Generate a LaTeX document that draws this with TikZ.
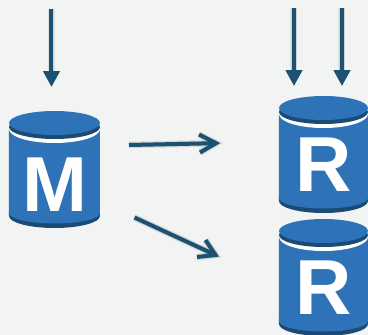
\documentclass[tikz,border=0pt]{standalone}
\usepackage{fontspec}
\setmainfont{Liberation Sans}
\usetikzlibrary{arrows.meta}
\definecolor{bgc}{HTML}{F2F4F4}
\definecolor{dbblue}{HTML}{2E73B8}
\definecolor{dbdark}{HTML}{1A4A75}
\definecolor{arrowc}{HTML}{1B5272}
\tikzset{
  flow/.style={draw=arrowc,line width=4pt,-{Triangle[length=16pt,width=16pt]}},
  flowsoft/.style={draw=black,opacity=.07,line width=#1,-{Triangle[length=16pt,width=16pt]}},
  shaft/.style={draw=arrowc,line width=4pt},
  open/.style={draw=arrowc,line width=4pt,line join=miter},
  opensoft/.style={draw=black,opacity=.07,line width=#1},
  letter/.style={text=white,font=\fontsize{78}{78}\selectfont\bfseries,inner sep=0pt,anchor=base},
  pics/dbcyl/.style n args={3}{code={
    % origin: centre of the top ellipse
    \fill[dbdark] (-#1,88) -- (-#1,93) arc[start angle=180,end angle=0,x radius=#1,y radius=12] -- (#1,88) -- cycle;
    \fill[dbblue] (-#1,6) -- (-#1,90) arc[start angle=180,end angle=0,x radius=#1,y radius=10.5] -- (#1,6) -- cycle;
    \fill[white] (0,6) ellipse[x radius=#1,y radius=14];
    \fill[dbdark] (0,4) ellipse[x radius=#1,y radius=12];
    \fill[dbblue] (0,0) ellipse[x radius=#1,y radius=12];
    \node[letter] (#2) at (0,#3) {\ifnum#3=88 M\else R\fi};
  }}
}
\begin{document}
\begin{tikzpicture}[x=1pt,y=-1pt]
\fill[bgc] (0,0) rectangle (368,335);
\useasboundingbox (0,0) rectangle (368,335);
\clip (0,0) rectangle (368,335);

\pic at (54.5,123) {dbcyl={45.5}{master}{88}};
\pic at (323.5,108) {dbcyl={44.5}{replicaA}{83}};
\pic at (323.5,231) {dbcyl={44.5}{replicaB}{83}};

\coordinate (inMs) at (51.5,9);   \coordinate (inMe) at (51.5,87);
\coordinate (inAs) at (294,8);    \coordinate (inAe) at (294,86);
\coordinate (inBs) at (342,8);    \coordinate (inBe) at (342,86);
\coordinate (outAs) at (129,145); \coordinate (outAe) at (216,143.2);
\coordinate (outAu) at (199,134.5); \coordinate (outAd) at (200,152.5);
\coordinate (outBs) at (134.5,217.5); \coordinate (outBe) at (215.5,255);
\coordinate (outBu) at (205.5,240); \coordinate (outBd) at (197,257);

% soft shadows
\begin{scope}[shift={(1.5,3)}]
  \foreach \w in {7pt,5.5pt,4pt}{
    \draw[flowsoft=\w] (inMs) -- (inMe);
    \draw[flowsoft=\w] (inAs) -- (inAe);
    \draw[flowsoft=\w] (inBs) -- (inBe);
    \draw[opensoft=\w] (outAs) -- (outAe);
    \draw[opensoft=\w] (outAu) -- (outAe) -- (outAd);
    \draw[opensoft=\w] (outBs) -- (outBe);
    \draw[opensoft=\w] (outBu) -- (outBe) -- (outBd);
  }
\end{scope}

% connectors
\draw[flow] (inMs) -- (inMe);
\draw[flow] (inAs) -- (inAe);
\draw[flow] (inBs) -- (inBe);
\draw[shaft] (outAs) -- (outAe);
\draw[open] (outAu) -- (outAe) -- (outAd);
\draw[shaft] (outBs) -- (outBe);
\draw[open] (outBu) -- (outBe) -- (outBd);
\end{tikzpicture}
\end{document}
